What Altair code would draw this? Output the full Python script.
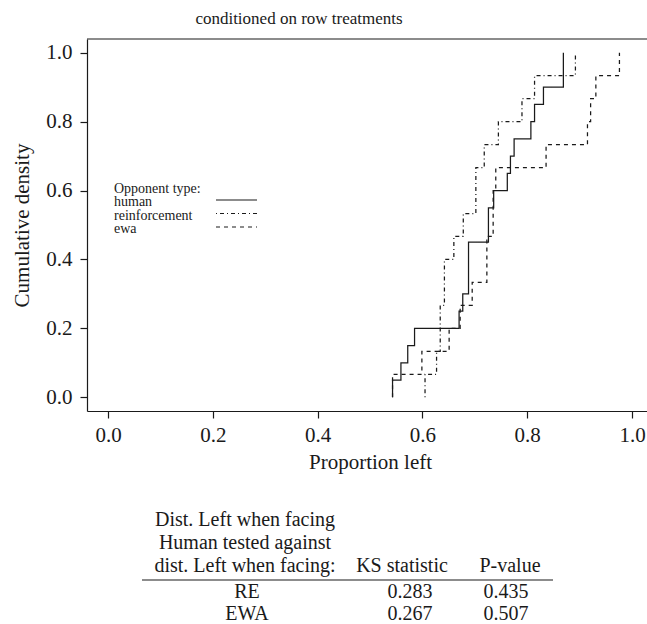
import altair as alt
import pandas as pd

# ---------------- data ----------------
series_names = ["human", "reinforcement", "ewa"]
human = [0.543, 0.559, 0.572, 0.585, 0.670, 0.677, 0.688, 0.688, 0.688, 0.726,
         0.726, 0.736, 0.762, 0.768, 0.775, 0.807, 0.814, 0.831, 0.869, 0.869]
reinforcement = [0.605, 0.627, 0.634, 0.634, 0.642, 0.642, 0.660, 0.678, 0.702,
                 0.702, 0.718, 0.745, 0.790, 0.814, 0.892]
ewa = [0.543, 0.599, 0.651, 0.672, 0.695, 0.723, 0.723, 0.735, 0.735, 0.740,
       0.836, 0.915, 0.921, 0.931, 0.976]

x_ticks = [0.0, 0.2, 0.4, 0.6, 0.8, 1.0]
y_ticks = [0.0, 0.2, 0.4, 0.6, 0.8, 1.0]

title_text = "conditioned on row treatments"
x_title = "Proportion left"
y_title = "Cumulative density"
legend_title = "Opponent type:"

table_header_lines = ["Dist. Left when facing", "Human tested against", "dist. Left when facing:"]
table_col_headers = ["KS statistic", "P-value"]
table_rows = ["RE", "EWA"]
ks_stat = [0.283, 0.267]
p_value = [0.435, 0.507]

# ---------------- build ECDF table ----------------
def ecdf_rows(name, values):
    vals = sorted(values)
    n = len(vals)
    rows = [{"series": name, "x": vals[0], "F": 0.0, "o": 0}]
    for i, v in enumerate(sorted(set(vals))):
        cnt = sum(1 for u in vals if u <= v)
        rows.append({"series": name, "x": v, "F": cnt / n, "o": i + 1})
    return rows

ecdf_df = pd.DataFrame(
    ecdf_rows("human", human)
    + ecdf_rows("reinforcement", reinforcement)
    + ecdf_rows("ewa", ewa)
)

# ---------------- layout / style ----------------
W, H = 560, 372
LEFT, TOP = 87, 39
INK = "#1a1a1a"
SERIF = "Liberation Serif"
dash_range = [[1, 0], [1, 3, 4, 3], [4, 4]]


def rx(x_abs):
    return x_abs - LEFT


def ry(y_abs):
    return y_abs - TOP


xscale = alt.Scale(domain=[-0.0401, 1.0286], nice=False, zero=False)
yscale = alt.Scale(domain=[-0.04, 1.04], nice=False, zero=False)

lines = alt.Chart(ecdf_df).mark_line(
    interpolate="step-after", color=INK, strokeWidth=1.25
).encode(
    x=alt.X("x:Q", scale=xscale,
            axis=alt.Axis(values=x_ticks, format=".1f", title=x_title,
                          titleX=rx(370), titleY=57, titleAlign="center",
                          titleBaseline="alphabetic", labelPadding=6,
                          labelFlush=False)),
    y=alt.Y("F:Q", scale=yscale,
            axis=alt.Axis(values=y_ticks, format=".1f", title=y_title,
                          titleAngle=270, titleX=-59, titleY=H / 2,
                          titleAlign="center", titleBaseline="alphabetic",
                          labelPadding=8, labelFlush=False)),
    strokeDash=alt.StrokeDash("series:N",
                              scale=alt.Scale(domain=series_names, range=dash_range),
                              legend=None),
    detail="series:N",
    order="o:Q",
)

layers = [lines]

# top frame line
layers.append(
    alt.Chart(pd.DataFrame({"a": [0]})).mark_rule(color=INK, strokeWidth=1.2).encode(
        x=alt.value(0), x2=alt.value(W), y=alt.value(0)
    )
)


def text_layer(label, x_abs, y_abs, size, align="left", font=SERIF):
    return alt.Chart(pd.DataFrame({"t": [label]})).mark_text(
        font=font, fontSize=size, color=INK, align=align, baseline="alphabetic"
    ).encode(text="t:N", x=alt.value(rx(x_abs)), y=alt.value(ry(y_abs)))


# title
layers.append(text_layer(title_text, 299, 23.5, 17, align="center"))

# legend (manual, labels left, line samples right)
layers.append(text_layer(legend_title, 114, 192.5, 14))
for i, name in enumerate(series_names):
    base = 206 + 13.5 * i
    layers.append(text_layer(name, 114, base, 14))
    layers.append(
        alt.Chart(pd.DataFrame({"a": [0]})).mark_rule(
            color=INK, strokeWidth=1.2, strokeDash=dash_range[i]
        ).encode(x=alt.value(rx(216)), x2=alt.value(rx(257)), y=alt.value(ry(base - 6)))
    )

# table below the plot
TFS = 20
for i, line in enumerate(table_header_lines):
    layers.append(text_layer(line, 245, 526 + 23 * i, TFS, align="center"))
layers.append(text_layer(table_col_headers[0], 402, 572, TFS, align="center"))
layers.append(text_layer(table_col_headers[1], 510, 572, TFS, align="center"))
layers.append(
    alt.Chart(pd.DataFrame({"a": [0]})).mark_rule(color=INK, strokeWidth=1.1).encode(
        x=alt.value(rx(142)), x2=alt.value(rx(553)), y=alt.value(ry(580))
    )
)
for i, (lab, ks, pv) in enumerate(zip(table_rows, ks_stat, p_value)):
    base = 598 + 21.5 * i
    layers.append(text_layer(lab, 247, base, TFS, align="center"))
    layers.append(text_layer(f"{ks:.3f}", 410, base, TFS, align="center"))
    layers.append(text_layer(f"{pv:.3f}", 506, base, TFS, align="center"))

chart = alt.layer(*layers).properties(
    width=W, height=H,
    autosize=alt.AutoSizeParams(type="none"),
    padding={"left": LEFT, "top": TOP, "right": 647 - LEFT - W, "bottom": 624 - TOP - H},
    background="white",
).configure_view(stroke=None).configure_axis(
    labelFont=SERIF, labelFontSize=21, labelColor=INK,
    tickColor=INK, tickSize=7, tickWidth=1.2,
    domainColor=INK, domainWidth=1.2, grid=False,
    titleFont=SERIF, titleFontSize=21, titleFontWeight="normal", titleColor=INK,
)

chart.save("out.html", embed_options={"renderer": "svg", "actions": False})
